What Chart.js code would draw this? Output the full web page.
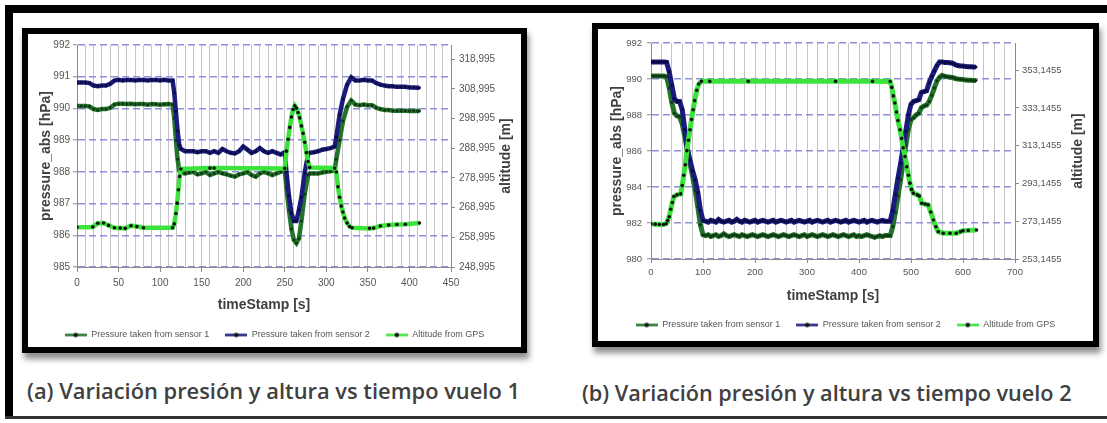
<!DOCTYPE html>
<html>
<head>
<meta charset="utf-8">
<script src="https://cdn.jsdelivr.net/npm/chart.js@4.4.1/dist/chart.umd.min.js"></script>
<style>
  html, body { margin: 0; padding: 0; background: #fff; }
  body { width: 1107px; height: 423px; position: relative; overflow: hidden; }
  .frame { position: absolute; background: #000; }
  .box { position: absolute; border: 6px solid #000; background: #fff; box-shadow: 2px 6px 6px rgba(0,0,0,0.45); }
  canvas { position: absolute; }
  .caption { position: absolute; white-space: nowrap; font-family: "Open Sans", sans-serif; font-weight: 600;
             color: #404040; line-height: 24px; font-size: 20px; }
</style>
</head>
<body>
<div class="frame" style="left:5px;top:5px;width:1102px;height:8px"></div>
<div class="frame" style="left:5px;top:5px;width:8px;height:414px"></div>
<div class="frame" style="left:5px;top:416px;width:1102px;height:3px;background:#333"></div>

<div class="box" style="left:22px;top:28px;width:493px;height:313px"></div>
<div class="box" style="left:592px;top:23px;width:495px;height:312px"></div>

<canvas id="chartA" width="493" height="313" style="left:28px;top:34px"></canvas>
<canvas id="chartB" width="495" height="312" style="left:598px;top:29px"></canvas>

<div class="caption" data-w="493" style="left:27px;top:379px">(a) Variación presión y altura vs tiempo vuelo 1</div>
<div class="caption" data-w="490" style="left:582px;top:381px">(b) Variación presión y altura vs tiempo vuelo 2</div>

<script>
// ---- flight 1 ----
const timeA = [0,5,10,15,20,25,30,35,40,45,50,55,60,65,70,75,80,85,90,95,100,105,110,115,
  117,119,121,123,
  125,130,135,140,145,150,155,160,165,170,175,180,185,190,195,200,205,210,215,220,225,230,235,240,245,250,
  252,255,258,261,264,267,270,274,278,
  280,285,290,295,300,305,310,
  312,316,320,325,
  330,335,340,345,350,355,360,365,370,375,380,385,390,395,400,405,410,412];
const sensor1A = [990.08,990.08,990.08,990.06,989.98,989.95,989.98,989.98,990.02,990.12,990.15,990.15,990.14,990.15,990.13,990.14,990.14,990.12,990.14,990.13,990.12,990.13,990.14,990.12,
  989.7,989.0,988.4,988.05,
  987.98,987.95,987.98,988.0,987.92,987.95,988.0,987.9,987.95,988.0,987.95,987.92,987.88,987.85,987.92,987.95,988.0,987.9,987.85,987.95,988.0,987.95,987.9,987.95,988.0,988.05,
  987.5,986.8,986.2,985.85,985.75,985.9,986.45,987.3,987.9,
  987.95,987.95,987.95,987.98,988.0,988.02,988.05,
  988.4,989.0,989.6,990.05,
  990.25,990.12,990.1,990.12,990.1,990.1,990.02,989.98,989.95,989.95,989.93,989.93,989.93,989.93,989.92,989.92,989.92,989.92];
const sensor2A = [990.82,990.82,990.82,990.8,990.72,990.7,990.72,990.72,990.78,990.88,990.9,990.88,990.9,990.9,990.88,990.9,990.9,990.88,990.9,990.9,990.88,990.9,990.88,990.88,
  990.5,989.9,989.3,988.85,
  988.72,988.65,988.65,988.65,988.62,988.65,988.65,988.6,988.65,988.6,988.72,988.65,988.6,988.58,988.65,988.8,988.7,988.6,988.65,988.75,988.65,988.6,988.65,988.6,988.55,988.62,
  988.0,987.25,986.7,986.45,986.45,986.8,987.2,987.97,988.55,
  988.6,988.62,988.65,988.7,988.72,988.75,988.8,
  989.1,989.8,990.3,990.75,
  990.98,990.88,990.88,990.9,990.88,990.88,990.8,990.75,990.72,990.7,990.7,990.68,990.68,990.68,990.66,990.66,990.65,990.65];
const gpsTimeA = [0,19,25,32,38,45,52,58,65,72,80,
  115,117,119,120.5,122,123.5,125,
  160,165,250,
  252,254,256,258,260,262,264,266,268,270,272,274,276,278,280,
  310,312,314,316,318,320,322,325,328,331,
  352,357,365,375,385,395,412];
const altitudeA = [262.4,262.5,263.7,263.8,263.0,262.2,262.1,262.0,262.9,262.6,262.2,
  262.2,263.5,267,270.5,275,279.5,282.0,
  282.3,282.3,282.2,
  288,292,296,299.5,302,303.3,302.5,301,299.2,296.5,294,291,287.5,284.5,282.5,
  282.3,281,276,272.5,269.5,267.5,265.5,263.8,262.6,262.2,
  262.0,262.1,262.8,263.1,263.3,263.4,263.8];
const xLabelsA = [0,50,100,150,200,250,300,350,400,450];
const pressTicksA = [985,986,987,988,989,990,991,992];
const altTicksA = [248.995,258.995,268.995,278.995,288.995,298.995,308.995,318.995];

// ---- flight 2 ----
const timeB = [0,5,10,15,20,25,30,35,40,45,50,55,60,65,70,75,80,85,90,95,
  100,105,110,115,120,125,130,135,140,145,150,155,160,165,170,175,180,185,190,195,
  200,205,210,215,220,225,230,235,240,245,250,255,260,265,270,275,280,285,290,295,
  300,305,310,315,320,325,330,335,340,345,350,355,360,365,370,375,380,385,390,395,
  400,405,410,415,420,425,430,435,440,445,450,455,460,465,470,475,480,485,490,495,
  500,505,510,515,520,525,530,535,540,545,550,555,560,565,570,575,580,585,590,595,
  600,605,610,615,620,625];
const sensor1B = [990.17,990.17,990.17,990.17,990.16,990.16,990.12,
  989.5,988.7,988.1,987.95,987.9,987.5,986.8,986.0,985.3,984.6,983.8,982.9,981.9,981.35,
  981.3,981.35,981.25,981.3,981.35,981.25,981.3,981.4,981.3,981.25,
  981.3,981.35,981.3,981.25,981.35,981.3,981.25,981.3,981.35,981.3,
  981.25,981.3,981.35,981.3,981.25,981.3,981.35,981.3,981.25,981.3,
  981.35,981.3,981.25,981.3,981.35,981.3,981.25,981.3,981.35,981.25,
  981.3,981.35,981.3,981.25,981.3,981.35,981.3,981.25,981.3,981.35,
  981.3,981.25,981.3,981.35,981.3,981.25,981.3,981.35,981.25,981.3,
  981.25,981.3,981.35,981.3,981.25,981.2,981.25,981.3,981.25,981.3,
  981.3,
  981.3,981.8,982.6,983.5,984.4,985.4,986.3,987.2,987.75,987.85,988.0,988.1,988.4,988.5,988.55,988.75,989.1,
  989.5,989.9,990.1,990.2,990.15,990.12,990.1,990.08,990.03,990.0,989.98,989.97,989.95,989.93,989.93,989.92,989.92];
const sensor2B = [990.95,990.95,990.95,990.95,990.95,990.95,990.93,
  990.4,989.65,988.9,988.75,988.75,988.3,987.2,986.1,985.5,984.9,984.4,983.7,982.7,982.15,
  982.1,982.05,982.15,982.1,982.05,982.2,982.1,982.05,982.1,982.15,
  982.05,982.1,982.2,982.1,982.05,982.15,982.1,982.05,982.1,982.15,
  982.05,982.1,982.15,982.1,982.05,982.1,982.15,982.05,982.1,982.15,
  982.1,982.05,982.1,982.15,982.05,982.1,982.15,982.1,982.05,982.1,
  982.15,982.05,982.1,982.15,982.1,982.05,982.1,982.15,982.05,982.1,
  982.15,982.1,982.05,982.1,982.15,982.05,982.1,982.15,982.1,982.05,
  982.1,982.15,982.05,982.1,982.15,982.1,982.05,982.1,982.15,982.1,
  982.1,
  982.1,982.7,983.6,984.5,985.3,986.2,987.1,988.0,988.6,988.75,988.8,988.85,989.25,989.3,989.35,989.8,990.15,
  990.45,990.75,990.95,990.95,990.92,990.92,990.9,990.88,990.8,990.75,990.72,990.72,990.7,990.68,990.68,990.67,990.66];
const gpsTimeB = [0,8,16,24,29,32,35,38,41,44,
  50,57,60,63,66,69,72,75,78,81,84,88,92,97,
  113,187,355,426,
  460,463,466,469,472,475,479,482,485,488.5,492,495,498,501,504.5,
  512,516,520.6,527,533,538,543,548,552.5,
  562,575,587,595,600,610,626];
const altitudeB = [271.7,271.6,271.4,271.4,271.8,273.5,275.5,279.5,283,286.2,
  287.1,287.6,292,297.5,303,310.5,316,321.6,327,332.2,337,342.5,345.8,347.2,
  347.2,347.2,347.2,347.2,
  347.1,344,339.5,335.7,331,326.5,321.6,317,312,307.4,302,297.5,293.3,290,288.0,
  287.1,286.5,282.7,282.2,281.8,278,273.8,270.2,267.6,
  266.8,266.8,266.8,267.6,268.1,268.3,268.5];
const xLabelsB = [0,100,200,300,400,500,600,700];
const pressTicksB = [980,982,984,986,988,990,992];
const altTicksB = [253.1455,273.1455,293.1455,313.1455,333.1455,353.1455];

const seriesNames = ['Pressure taken from sensor 1', 'Pressure taken from sensor 2', 'Altitude from GPS'];
const COL_S1 = '#23732a', COL_S2 = '#1b1b7d', COL_GPS = '#3be33b';
const DOT_S1 = '#0e3512', DOT_S2 = '#0a0a3c', DOT_GPS = '#111';

Chart.defaults.font.family = '"Liberation Sans", Arial, sans-serif';
Chart.defaults.color = '#555';

function pairs(xs, ys) { return xs.map((x, i) => ({ x: x, y: ys[i] })); }

function legendIcon(color) {
  const c = document.createElement('canvas');
  c.width = 22; c.height = 7;
  const g = c.getContext('2d');
  g.strokeStyle = color; g.lineWidth = 2.5;
  g.beginPath(); g.moveTo(0, 3.5); g.lineTo(22, 3.5); g.stroke();
  g.fillStyle = '#111';
  g.beginPath(); g.arc(11, 3.5, 2.2, 0, Math.PI * 2); g.fill();
  return c;
}
const icons = [legendIcon(COL_S1), legendIcon(COL_S2), legendIcon(COL_GPS)];

// keep the legend strip at a fixed height so the plot lands where the original is
const legendHeight = {
  id: 'legendHeight',
  beforeLayout(chart, args, opts) {
    const lg = chart.legend;
    if (lg && !lg._fixed) {
      const fit = lg.fit;
      lg.fit = function () { fit.call(this); this.height = opts.height; };
      lg._fixed = true;
    }
  }
};

// right axis title reads bottom-to-top like the Excel one
const rightTitle = {
  id: 'rightTitle',
  afterDraw(chart, args, opts) {
    const s = chart.scales.y1, a = chart.chartArea, g = chart.ctx;
    g.save();
    g.translate(s.right - opts.offset, (a.top + a.bottom) / 2);
    g.rotate(-Math.PI / 2);
    g.font = 'bold 14px "Liberation Sans", Arial, sans-serif';
    g.fillStyle = '#404040';
    g.textAlign = 'center'; g.textBaseline = 'middle';
    g.fillText(opts.text, 0, 0);
    g.restore();
  }
};

function buildChart(id, p) {
  const lineSet = (label, xs, ys, color, dot, axis, order, r) => ({
    label: label, data: pairs(xs, ys), yAxisID: axis, order: order,
    borderColor: color, borderWidth: p.lineW, tension: 0,
    pointRadius: r, pointBackgroundColor: dot, pointBorderWidth: 0
  });

  return new Chart(document.getElementById(id), {
    type: 'line',
    data: { datasets: [
      lineSet(seriesNames[0], p.t, p.s1, COL_S1, DOT_S1, 'y', 3, 1.5),
      lineSet(seriesNames[1], p.t, p.s2, COL_S2, DOT_S2, 'y', 2, 1.5),
      lineSet(seriesNames[2], p.gt, p.alt, COL_GPS, DOT_GPS, 'y1', 1, 1.8)
    ]},
    plugins: [legendHeight, rightTitle],
    options: {
      responsive: false, animation: false, events: [], devicePixelRatio: 1,
      layout: { padding: { top: p.padTop, left: 0, right: 0, bottom: 0 } },
      plugins: {
        tooltip: { enabled: false },
        legendHeight: { height: p.legendH },
        rightTitle: { text: 'altitude [m]', offset: 15 },
        legend: {
          position: 'bottom',
          labels: {
            usePointStyle: true, pointStyleWidth: 22, padding: 16,
            font: { size: 9 }, color: '#555',
            generateLabels: chart => chart.data.datasets.map((ds, i) => ({
              text: ds.label, pointStyle: icons[i], datasetIndex: i, hidden: false,
              fillStyle: 'rgba(0,0,0,0)', strokeStyle: 'rgba(0,0,0,0)', lineWidth: 0, fontColor: '#555'
            }))
          }
        }
      },
      scales: {
        x: {
          type: 'linear', min: 0, max: p.xMax,
          ticks: { stepSize: p.xMinor, autoSkip: false, maxRotation: 0, padding: p.xTickPad,
                   font: { size: p.tickFont }, color: '#555',
                   callback: v => p.xLabels.includes(v) ? String(v) : '' },
          grid: { color: '#c4c4c4', lineWidth: 1, tickLength: p.xTickLen,
                  tickColor: c => (c.tick && p.xLabels.includes(c.tick.value)) ? '#8a8a8a' : 'rgba(0,0,0,0)' },
          border: { color: '#8a8a8a', width: 1 },
          title: { display: true, text: 'timeStamp [s]', color: '#404040',
                   font: { size: 14, weight: 'bold' }, padding: { top: 0, bottom: p.xTitlePad } },
          afterFit: s => { s.height = p.xAxisH; }
        },
        y: {
          position: 'left', min: p.pTicks[0], max: p.pTicks[p.pTicks.length - 1],
          afterBuildTicks: s => { s.ticks = p.pTicks.map(v => ({ value: v })); },
          ticks: { padding: p.yTickPad, font: { size: p.tickFont }, color: '#555' },
          grid: { color: '#8f8fdc', lineWidth: 1.5, tickLength: 4, tickColor: '#8a8a8a', tickWidth: 1 },
          border: { color: '#8a8a8a', width: 1, dash: [7, 4] },
          title: { display: true, text: 'pressure_abs [hPa]', color: '#404040',
                   font: { size: 14, weight: 'bold' }, padding: { top: p.yTitlePad, bottom: 0 } },
          afterFit: s => { s.width = p.leftW; }
        },
        y1: {
          position: 'right', min: p.aTicks[0], max: p.altMax,
          afterBuildTicks: s => { s.ticks = p.aTicks.map(v => ({ value: v })); },
          ticks: { padding: p.y1TickPad, font: { size: p.tickFont }, color: '#555',
                   callback: v => v.toFixed(p.altDec).replace('.', ',') },
          grid: { drawOnChartArea: false, tickLength: 4, tickColor: '#8a8a8a' },
          border: { color: '#8a8a8a', width: 1 },
          afterFit: s => { s.width = p.rightW; }
        }
      }
    }
  });
}

buildChart('chartA', {
  t: timeA, s1: sensor1A, s2: sensor2A, gt: gpsTimeA, alt: altitudeA,
  xMax: 450, xMinor: 10, xLabels: xLabelsA, pTicks: pressTicksA, aTicks: altTicksA, altMax: 323.74, altDec: 3,
  lineW: 4.5, tickFont: 10, padTop: 11, leftW: 49, rightW: 70, xAxisH: 47.5, legendH: 32.5,
  xTickLen: 5, xTickPad: 5, xTitlePad: 1, yTickPad: 3, y1TickPad: 4, yTitlePad: 10
});

buildChart('chartB', {
  t: timeB, s1: sensor1B, s2: sensor2B, gt: gpsTimeB, alt: altitudeB,
  xMax: 700, xMinor: 20, xLabels: xLabelsB, pTicks: pressTicksB, aTicks: altTicksB, altMax: 367.5, altDec: 4,
  lineW: 5, tickFont: 9.5, padTop: 14, leftW: 53, rightW: 78, xAxisH: 45.5, legendH: 36.5,
  xTickLen: 4, xTickPad: 4, xTitlePad: 0, yTickPad: 5, y1TickPad: 3, yTitlePad: 11
});

document.querySelectorAll('.caption').forEach(el => {
  const target = +el.dataset.w;
  const w = el.getBoundingClientRect().width;
  el.style.fontSize = (20 * target / w) + 'px';
});
</script>
</body>
</html>
